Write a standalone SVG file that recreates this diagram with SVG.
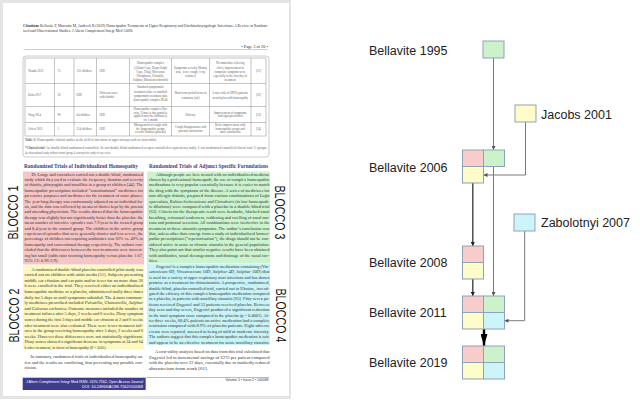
<svg xmlns="http://www.w3.org/2000/svg" width="640" height="400" viewBox="0 0 640 400">
<style>
.b{font-family:"Liberation Serif",serif;font-size:4.3px;fill:#333}
.t{font-family:"Liberation Serif",serif;font-size:3px;fill:#666}
.tc{font-family:"Liberation Serif",serif;font-size:3px;fill:#666;text-anchor:middle}
.h{font-family:"Liberation Serif",serif;font-size:5.2px;font-weight:bold;fill:#3b3d8f}
.blk{font-family:"Liberation Sans",sans-serif;font-size:14px;fill:#111;text-anchor:middle}
.lbl{font-family:"Liberation Sans",sans-serif;font-size:12.5px;fill:#222}
.ft{font-family:"Liberation Sans",sans-serif;font-size:3.6px}
.bx{stroke:#8fa2b7;stroke-width:1}
.pk{fill:#f9cccc}.gr{fill:#ccf2cc}.ye{fill:#fefcc8}.cy{fill:#ccf5fa}
.cg{fill:none;stroke:#7a7a7a;stroke-width:1}
.cd{fill:none;stroke:#333;stroke-width:1.3}
</style>
<defs>
<marker id="ag" viewBox="0 0 4 4" refX="4" refY="2" markerWidth="4" markerHeight="4" orient="auto" markerUnits="userSpaceOnUse"><path d="M0,0 L4,2 L0,4 z" fill="#555"/></marker>
<marker id="ad" viewBox="0 0 4 4" refX="4" refY="2" markerWidth="4" markerHeight="4" orient="auto" markerUnits="userSpaceOnUse"><path d="M0,0 L4,2 L0,4 z" fill="#222"/></marker>
<marker id="ab" viewBox="0 0 12 7" refX="12" refY="3.5" markerWidth="12" markerHeight="7" orient="auto" markerUnits="userSpaceOnUse"><path d="M0,0 L12,3.5 L0,7 z" fill="#000"/></marker>
</defs>
<rect width="640" height="400" fill="#fff"/>

<g id="document-page">
<rect x="0" y="0" width="291" height="399" fill="#e4e4e4"/>
<rect x="3" y="3" width="286" height="393" fill="#fff"/>

<text class="b" x="23" y="26.8" font-size="3.9" font-weight="bold">Citation:</text>
<text class="b" x="40" y="26.8" font-size="3.9" textLength="228" lengthAdjust="spacingAndGlyphs">Bellavite P, Marzotto M, Andreoli B (2019) Homeopathic Treatments of Upper Respiratory and Otorhinolaryngologic Infections: A Review of Random-</text>
<text class="b" x="23" y="32.4" font-size="3.9" textLength="110" lengthAdjust="spacingAndGlyphs">ized and Observational Studies. J Altern Complement Integr Med 5:068.</text>
<text class="b" x="268" y="48" font-size="3.5" text-anchor="end">• Page 3 of 20 •</text>
<line x1="23.5" y1="49.6" x2="268" y2="49.6" stroke="#9a9a9a" stroke-width="0.5"/>

<rect x="23" y="56" width="246" height="101" rx="3" fill="none" stroke="#aaa" stroke-width="0.6"/>
<g fill="none" stroke="#8a8a8a" stroke-width="0.5">
<rect x="25" y="58" width="241" height="78"/>
<path d="M25,83.5H266M25,106.5H266M25,122.5H266M54.5,58V136M74,58V136M96.5,58V136M129.5,58V136M171.5,58V136M209.5,58V136M251,58V136"/>
</g>
<text class="t" x="28" y="71.7">Yasuda 2012</text>
<text class="t" x="57.5" y="71.7">75</text>
<text class="t" x="76.5" y="71.7">155 children</text>
<text class="t" x="99.5" y="71.7">OIII</text>
<text class="tc" x="150.5" y="64.3">Homeopathic complex</text>
<text class="tc" x="150.5" y="68.5">(Allium Cepa, Hepar Sulph</text>
<text class="tc" x="150.5" y="72.7">Caps, Thuja, Mercurius</text>
<text class="tc" x="150.5" y="76.9">Phosphorus, Pulsatilla,</text>
<text class="tc" x="150.5" y="81.1">Sulphur, Rhinoenterobronch)</text>
<text class="tc" x="190.5" y="68.5">Symptoms severity (Runny</text>
<text class="tc" x="190.5" y="72.7">nose, fever, cough, x-ray</text>
<text class="tc" x="190.5" y="76.9">features)</text>
<text class="tc" x="230.2" y="64.3">No immediate relieving</text>
<text class="tc" x="230.2" y="68.5">effect, improvement in</text>
<text class="tc" x="230.2" y="72.7">composite symptom score,</text>
<text class="tc" x="230.2" y="76.9">especially in the first day of</text>
<text class="tc" x="230.2" y="81.1">treatment</text>
<text class="tc" x="258.5" y="71.7">[51]</text>

<text class="t" x="28" y="96">Zafiu 2017</text>
<text class="t" x="57.5" y="96">30</text>
<text class="t" x="76.5" y="96">OIII</text>
<text class="t" x="99.5" y="93.8">Different cases</text>
<text class="t" x="99.5" y="98">with rhinitis</text>
<text class="tc" x="150.5" y="88.3">Standard symptomatic</text>
<text class="tc" x="150.5" y="92.5">treatment alone vs standard</text>
<text class="tc" x="150.5" y="96.7">symptomatic treatment plus</text>
<text class="tc" x="150.5" y="100.9">homeopathic complex M-46</text>
<text class="tc" x="190.5" y="94.4">Short-term period between</text>
<text class="tc" x="190.5" y="98.6">remission (wk)</text>
<text class="tc" x="230.2" y="94.4">Lower risk of URTIs patients</text>
<text class="tc" x="230.2" y="98.6">treated plus with homeopathy</text>
<text class="tc" x="258.5" y="96">[52]</text>

<text class="t" x="28" y="115.5">Yang 2014</text>
<text class="t" x="57.5" y="115.5">98</text>
<text class="t" x="76.5" y="115.5">64 children</text>
<text class="t" x="99.5" y="115.5">OIII</text>
<text class="tc" x="150.5" y="110">Homeopathic complex (Sin-</text>
<text class="tc" x="150.5" y="113.7">usin, 3 times a day granules</text>
<text class="tc" x="150.5" y="117.4">applied onto the turbinates)</text>
<text class="tc" x="150.5" y="121.1">for 1 month</text>
<text class="tc" x="190.5" y="115.5">Efficacy</text>
<text class="tc" x="230.2" y="113.6">Improvement of symptoms</text>
<text class="tc" x="230.2" y="117.4">and signs/prescribed</text>
<text class="tc" x="258.5" y="115.5">[53]</text>

<text class="t" x="28" y="130.3">Jeffers 2015</text>
<text class="t" x="57.5" y="130.3">1</text>
<text class="t" x="76.5" y="130.3">314 children</text>
<text class="t" x="99.5" y="130.3">OIII</text>
<text class="tc" x="150.5" y="126">Management of cough with</text>
<text class="tc" x="150.5" y="129.5">the homeopathic syrups</text>
<text class="tc" x="150.5" y="133">vs with Dismiss (placebo)</text>
<text class="tc" x="190.5" y="128.2">Cough disappearance and</text>
<text class="tc" x="190.5" y="131.8">parental satisfaction</text>
<text class="tc" x="230.2" y="126">Better improvement with</text>
<text class="tc" x="230.2" y="129.5">homeopathic syrups and</text>
<text class="tc" x="230.2" y="133">more satisfaction</text>
<text class="tc" x="258.5" y="130.3">[54]</text>

<text class="t" x="25" y="141.3" textLength="132" lengthAdjust="spacingAndGlyphs"><tspan font-weight="bold">Table 3:</tspan> Homeopathic clinical studies in the field of infections of upper airways and ear (non-otitis).</text>
<text class="t" x="25" y="149.3" textLength="242" lengthAdjust="spacingAndGlyphs"><tspan font-weight="bold">*Clinical trial:</tspan> 1a: double-blind randomized controlled; 1b: not-double blind randomized or open controlled or equivalency study; 2: not randomized controlled clinical trial; 3: groups;</text>
<text class="t" x="25" y="154.3" textLength="86" lengthAdjust="spacingAndGlyphs">4a: observational study without control group; 4: retrospective study of case series.</text>

<text class="h" x="24" y="167.6" textLength="114" lengthAdjust="spacingAndGlyphs">Randomized Trials of Individualized Homeopathy</text>
<text class="h" x="149" y="167.6" textLength="119" lengthAdjust="spacingAndGlyphs">Randomized Trials of Adjunct Specific Formulations</text>

<rect x="23" y="171.5" width="121" height="93" fill="#f6c6c7"/>
<rect x="23" y="265.5" width="121" height="84" fill="#fcf8bf"/>
<rect x="147" y="171.5" width="123" height="92" fill="#cbf3cd"/>
<rect x="147" y="264" width="123" height="81" fill="#c8f4f7"/>

<g class="b">
<text x="31.5" y="175.5" textLength="111.5" lengthAdjust="spacingAndGlyphs">De Lange and coworkers carried out a double-blind, randomized</text>
<text x="24.5" y="180.9" textLength="118.5" lengthAdjust="spacingAndGlyphs">study which they used to evaluate the frequency, duration and severity</text>
<text x="24.5" y="186.3" textLength="118.5" lengthAdjust="spacingAndGlyphs">of rhinitis, pharyngitis and tonsillitis in a group of children [44]. The</text>
<text x="24.5" y="191.7" textLength="118.5" lengthAdjust="spacingAndGlyphs">homeopathic prescription included “constitutional” medicines for</text>
<text x="24.5" y="197.1" textLength="118.5" lengthAdjust="spacingAndGlyphs">preventive purposes and medicines for the treatment of acute phases.</text>
<text x="24.5" y="202.5" textLength="118.5" lengthAdjust="spacingAndGlyphs">The year-long therapy was continuously adjusted on an individual ba-</text>
<text x="24.5" y="207.9" textLength="118.5" lengthAdjust="spacingAndGlyphs">sis, and the data was collected by means of diaries kept by the parents</text>
<text x="24.5" y="213.3" textLength="118.5" lengthAdjust="spacingAndGlyphs">and attending physicians. The results showed that the homeopathic</text>
<text x="24.5" y="218.7" textLength="118.5" lengthAdjust="spacingAndGlyphs">therapy was slightly but not significantly better than the placebo: the</text>
<text x="24.5" y="224.1" textLength="118.5" lengthAdjust="spacingAndGlyphs">mean number of infective episodes was 7.9/year in the treated group</text>
<text x="24.5" y="229.5" textLength="118.5" lengthAdjust="spacingAndGlyphs">and 8.4/year in the control group. The children in the active group</text>
<text x="24.5" y="234.9" textLength="118.5" lengthAdjust="spacingAndGlyphs">experienced episodes that were generally shorter and less severe, the</text>
<text x="24.5" y="240.3" textLength="118.5" lengthAdjust="spacingAndGlyphs">percentage of children not requiring antibiotics was 62% vs. 49% in</text>
<text x="24.5" y="245.7" textLength="118.5" lengthAdjust="spacingAndGlyphs">homeopathy and conventional therapy respectively. The authors con-</text>
<text x="24.5" y="251.1" textLength="118.5" lengthAdjust="spacingAndGlyphs">cluded that the differences between the two treatments were interest-</text>
<text x="24.5" y="256.5" textLength="118.5" lengthAdjust="spacingAndGlyphs">ing but small (odds ratio favoring homeopathy versus placebo: 1.67,</text>
<text x="24.5" y="261.9" textLength="34" lengthAdjust="spacingAndGlyphs">95% CI: 0.96-2.9).</text>

<text x="156" y="175.5" textLength="113.5" lengthAdjust="spacingAndGlyphs">Although people are here treated with an individualized medicine</text>
<text x="149" y="180.9" textLength="120.5" lengthAdjust="spacingAndGlyphs">chosen by a professional homeopath, the use of complex homeopathic</text>
<text x="149" y="186.3" textLength="120.5" lengthAdjust="spacingAndGlyphs">medications is very popular essentially because it is easier to match</text>
<text x="149" y="191.7" textLength="120.5" lengthAdjust="spacingAndGlyphs">the drug with the symptoms of the disease. A series of medicines for</text>
<text x="149" y="197.1" textLength="120.5" lengthAdjust="spacingAndGlyphs">non allergic rhinitis, prepared from various combinations of <tspan font-style="italic">Luffa</tspan></text>
<text x="149" y="202.5" textLength="120.5" lengthAdjust="spacingAndGlyphs"><tspan font-style="italic">operculata</tspan>, <tspan font-style="italic">Kalium bichromicum</tspan> and <tspan font-style="italic">Cinnabaris</tspan> (in low homeopath-</text>
<text x="149" y="207.9" textLength="120.5" lengthAdjust="spacingAndGlyphs">ic dilutions) were compared with a placebo in a double-blind trial</text>
<text x="149" y="213.3" textLength="120.5" lengthAdjust="spacingAndGlyphs">[63]. Criteria for the therapeutic result were headache, blocked nasal</text>
<text x="149" y="218.7" textLength="120.5" lengthAdjust="spacingAndGlyphs">breathing, retronasal tenderness, reddening and swelling of nasal mu-</text>
<text x="149" y="224.1" textLength="120.5" lengthAdjust="spacingAndGlyphs">cosa and postnasal secretion. All combinations were ineffective in the</text>
<text x="149" y="229.5" textLength="120.5" lengthAdjust="spacingAndGlyphs">treatment of these sinusitis symptoms. The author’s conclusion was</text>
<text x="149" y="234.9" textLength="120.5" lengthAdjust="spacingAndGlyphs">that, unless other data emerge from a study of individualized homeo-</text>
<text x="149" y="240.3" textLength="120.5" lengthAdjust="spacingAndGlyphs">pathic prescriptions (“repertorisation”), the drugs should not be con-</text>
<text x="149" y="245.7" textLength="120.5" lengthAdjust="spacingAndGlyphs">sidered active in acute or chronic sinusitis in the general population.</text>
<text x="149" y="251.1" textLength="120.5" lengthAdjust="spacingAndGlyphs">They also point out that similar negative results have been obtained</text>
<text x="149" y="256.5" textLength="120.5" lengthAdjust="spacingAndGlyphs">with antibiotics, nasal decongestants and drainage of the nasal cav-</text>
<text x="149" y="261.9" textLength="9" lengthAdjust="spacingAndGlyphs">ities.</text>

<text x="31.5" y="270.6" textLength="111.5" lengthAdjust="spacingAndGlyphs">A randomized double-blind placebo controlled pilot study was</text>
<text x="24.5" y="276.2" textLength="118.5" lengthAdjust="spacingAndGlyphs">carried out on children with otitis media [51]. Subjects presenting</text>
<text x="24.5" y="281.8" textLength="118.5" lengthAdjust="spacingAndGlyphs">middle ear effusion and ear pain and/or fever for no more than 36</text>
<text x="24.5" y="287.4" textLength="118.5" lengthAdjust="spacingAndGlyphs">h were enrolled in the trial. They received either an individualized</text>
<text x="24.5" y="293" textLength="118.5" lengthAdjust="spacingAndGlyphs">homeopathic medicine or a placebo, administered orally three times</text>
<text x="24.5" y="298.6" textLength="118.5" lengthAdjust="spacingAndGlyphs">daily for 5 days or until symptoms subsided. The 4 most common-</text>
<text x="24.5" y="304.2" textLength="118.5" lengthAdjust="spacingAndGlyphs">ly medicines prescribed included <tspan font-style="italic">Pulsatilla</tspan>, <tspan font-style="italic">Chamomilla</tspan>, <tspan font-style="italic">Sulphur</tspan></text>
<text x="24.5" y="309.8" textLength="118.5" lengthAdjust="spacingAndGlyphs">and <tspan font-style="italic">Calcarea carbonica</tspan>. Outcome measures included the number of</text>
<text x="24.5" y="315.4" textLength="118.5" lengthAdjust="spacingAndGlyphs">treatment failures after 5 days, 2 weeks and 6 weeks. Diary symptom</text>
<text x="24.5" y="321" textLength="118.5" lengthAdjust="spacingAndGlyphs">scores during the first 3 days and middle ear effusion at 2 and 6 weeks</text>
<text x="24.5" y="326.6" textLength="118.5" lengthAdjust="spacingAndGlyphs">after treatment were also evaluated. There were fewer treatment fail-</text>
<text x="24.5" y="332.2" textLength="118.5" lengthAdjust="spacingAndGlyphs">ures in the group receiving homeopathy after 5 days, 2 weeks and 6</text>
<text x="24.5" y="337.8" textLength="118.5" lengthAdjust="spacingAndGlyphs">weeks. However these differences were not statistically significant.</text>
<text x="24.5" y="343.4" textLength="118.5" lengthAdjust="spacingAndGlyphs">Diary scores showed a significant decrease in symptoms at 24 and 64</text>
<text x="24.5" y="349" textLength="82" lengthAdjust="spacingAndGlyphs">h after treatment, in favor of homeopathy (P &lt; 0.05).</text>

<text x="30.5" y="358" textLength="112.5" lengthAdjust="spacingAndGlyphs">In summary, randomized trials of individualized homeopathy are</text>
<text x="24.5" y="363.6" textLength="118.5" lengthAdjust="spacingAndGlyphs">few and the results are conflicting, thus preventing any possible con-</text>
<text x="24.5" y="369.4" textLength="12.3" lengthAdjust="spacingAndGlyphs">clusion.</text>

<text x="156" y="268" textLength="113.5" lengthAdjust="spacingAndGlyphs"><tspan font-style="italic">Engystol</tspan> is a complex homeopathic medication containing (Vin-</text>
<text x="149" y="273.4" textLength="120.5" lengthAdjust="spacingAndGlyphs"><tspan font-style="italic">cetoxicum</tspan> 6D, <tspan font-style="italic">Vincetoxicum</tspan> 10D, <tspan font-style="italic">Sulphur</tspan> 4D, <tspan font-style="italic">Sulphur</tspan> 10D) that</text>
<text x="149" y="278.8" textLength="120.5" lengthAdjust="spacingAndGlyphs">is used for a variety of upper respiratory tract infections and has shown</text>
<text x="149" y="284.2" textLength="120.5" lengthAdjust="spacingAndGlyphs">promise as a treatment for rhinosinusitis. A prospective, randomized,</text>
<text x="149" y="289.6" textLength="120.5" lengthAdjust="spacingAndGlyphs">double-blind, placebo controlled trial, carried out in Ukraine, investi-</text>
<text x="149" y="295" textLength="120.5" lengthAdjust="spacingAndGlyphs">gated the efficacy of this complex homeopathic medication compared</text>
<text x="149" y="300.4" textLength="120.5" lengthAdjust="spacingAndGlyphs">to a placebo, in patients with maxillary sinusitis [65]. Fifty-seven pa-</text>
<text x="149" y="305.8" textLength="120.5" lengthAdjust="spacingAndGlyphs">tients received <tspan font-style="italic">Engystol</tspan> and 53 patients received placebo. Between</text>
<text x="149" y="311.2" textLength="120.5" lengthAdjust="spacingAndGlyphs">day zero and day seven, <tspan font-style="italic">Engystol</tspan> produced a significant reduction</text>
<text x="149" y="316.6" textLength="120.5" lengthAdjust="spacingAndGlyphs">in the total symptom score compared to the placebo (p &lt; 0.0001). Af-</text>
<text x="149" y="322" textLength="120.5" lengthAdjust="spacingAndGlyphs">ter three weeks, 68.4% patients on active medication had a complete</text>
<text x="149" y="327.4" textLength="120.5" lengthAdjust="spacingAndGlyphs">remission compared with 8.9% of placebo patients. Eight adverse</text>
<text x="149" y="332.8" textLength="120.5" lengthAdjust="spacingAndGlyphs">events were reported, assessed as being of mild or moderate intensity.</text>
<text x="149" y="338.2" textLength="120.5" lengthAdjust="spacingAndGlyphs">The authors suggest that this complex homeopathic medication is safe</text>
<text x="149" y="343.6" textLength="120.5" lengthAdjust="spacingAndGlyphs">and appear to be an effective treatment for acute maxillary sinusitis.</text>

<text x="155" y="353" textLength="114.5" lengthAdjust="spacingAndGlyphs">A cost-utility analysis based on data from this trial calculated that</text>
<text x="149" y="358.6" textLength="120.5" lengthAdjust="spacingAndGlyphs"><tspan font-style="italic">Engystol</tspan> led to incremental savings of €275 per patient compared</text>
<text x="149" y="364" textLength="120.5" lengthAdjust="spacingAndGlyphs">with the placebo over 22 days, essentially due to markedly reduced</text>
<text x="149" y="369.6" textLength="59" lengthAdjust="spacingAndGlyphs">absenteeism from work [61].</text>
</g>

<rect x="22.7" y="377.7" width="123" height="12.3" fill="#3f3c8e"/>
<text class="ft" x="143" y="382.8" fill="#fff" text-anchor="end" textLength="117" lengthAdjust="spacingAndGlyphs">J Altern Complement Integr Med ISSN: 2470-7562, Open Access Journal</text>
<text class="ft" x="143" y="387.6" fill="#fff" text-anchor="end" textLength="61" lengthAdjust="spacingAndGlyphs">DOI: 10.24966/ACIM-7562/100068</text>
<line x1="146.5" y1="377.5" x2="269" y2="377.5" stroke="#777" stroke-width="0.5"/>
<text class="ft" x="268.5" y="381.3" fill="#333" text-anchor="end" textLength="43" lengthAdjust="spacingAndGlyphs">Volume 5 • Issue 2 • 100068</text>

<text class="blk" transform="translate(13.3,212.5) rotate(-90)" x="0" y="5" textLength="54" lengthAdjust="spacingAndGlyphs">BLOCCO 1</text>
<text class="blk" transform="translate(13.5,315.5) rotate(-90)" x="0" y="5" textLength="54" lengthAdjust="spacingAndGlyphs">BLOCCO 2</text>
<text class="blk" transform="translate(280.3,212.5) rotate(90)" x="0" y="5" textLength="54" lengthAdjust="spacingAndGlyphs">BLOCCO 3</text>
<text class="blk" transform="translate(280.5,315.5) rotate(90)" x="0" y="5" textLength="54" lengthAdjust="spacingAndGlyphs">BLOCCO 4</text>
</g>

<g id="connectors">
<line class="cg" x1="493.5" y1="58" x2="493.5" y2="150" marker-end="url(#ag)"/>
<polyline class="cg" points="525.5,122 525.5,175 483.5,175" marker-end="url(#ag)"/>
<line class="cd" x1="472.8" y1="183" x2="472.8" y2="246" marker-end="url(#ad)"/>
<line class="cg" x1="493.5" y1="166.5" x2="493.5" y2="296" marker-end="url(#ag)"/>
<line class="cd" x1="472.8" y1="279" x2="472.8" y2="296" marker-end="url(#ad)"/>
<polyline class="cg" points="524.7,231 524.7,320.7 504.5,320.7" marker-end="url(#ag)"/>
<line x1="484" y1="329" x2="484" y2="346" stroke="#000" stroke-width="2.4" marker-end="url(#ab)"/>
</g>

<g id="bellavite-1995">
<text class="lbl" x="369" y="54.5">Bellavite 1995</text>
<rect class="bx gr" x="483" y="41" width="21" height="17"/>
</g>
<g id="jacobs-2001">
<rect class="bx ye" x="515" y="105" width="21" height="17"/>
<text class="lbl" x="541" y="118.5">Jacobs 2001</text>
</g>
<g id="bellavite-2006">
<text class="lbl" x="369" y="171.5">Bellavite 2006</text>
<rect class="bx pk" x="462.5" y="150" width="21" height="16.5"/>
<rect class="bx gr" x="483.5" y="150" width="21" height="16.5"/>
<rect class="bx ye" x="462.5" y="166.5" width="21" height="16.5"/>
</g>
<g id="zabolotnyi-2007">
<rect class="bx cy" x="514" y="214" width="21" height="17"/>
<text class="lbl" x="541" y="227">Zabolotnyi 2007</text>
</g>
<g id="bellavite-2008">
<text class="lbl" x="369" y="267">Bellavite 2008</text>
<rect class="bx pk" x="462.5" y="246" width="21" height="16.5"/>
<rect class="bx ye" x="462.5" y="262.5" width="21" height="16.5"/>
</g>
<g id="bellavite-2011">
<text class="lbl" x="369" y="317">Bellavite 2011</text>
<rect class="bx pk" x="462.5" y="296" width="21" height="16.5"/>
<rect class="bx gr" x="483.5" y="296" width="21" height="16.5"/>
<rect class="bx ye" x="462.5" y="312.5" width="21" height="16.5"/>
<rect class="bx cy" x="483.5" y="312.5" width="21" height="16.5"/>
</g>
<g id="bellavite-2019">
<text class="lbl" x="369" y="367">Bellavite 2019</text>
<rect class="bx pk" x="462.5" y="346" width="21" height="16.5"/>
<rect class="bx gr" x="483.5" y="346" width="21" height="16.5"/>
<rect class="bx ye" x="462.5" y="362.5" width="21" height="16.5"/>
<rect class="bx cy" x="483.5" y="362.5" width="21" height="16.5"/>
</g>
</svg>
